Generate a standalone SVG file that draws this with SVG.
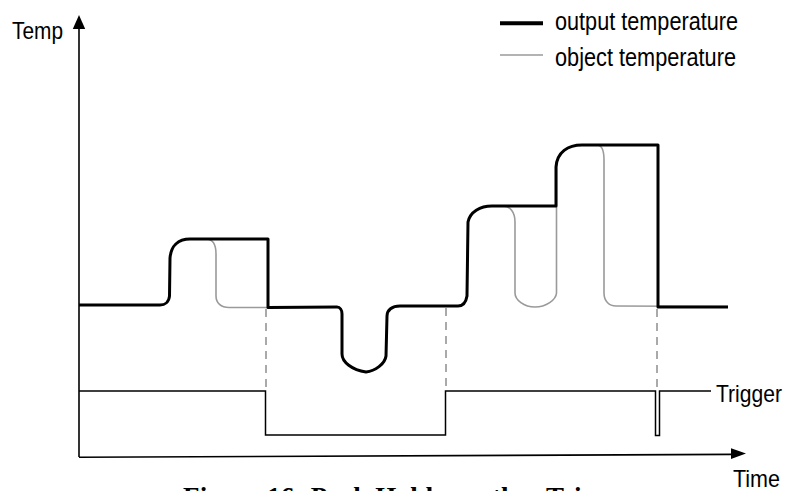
<svg xmlns="http://www.w3.org/2000/svg" width="786" height="491" viewBox="0 0 786 491">
  <style>
    .lbl { font-family: "Liberation Sans Narrow", "Liberation Sans", Arial, sans-serif; fill: #000; }
    .axis { stroke: #000; stroke-width: 1.6; fill: none; }
    .out { stroke: #000; stroke-width: 3; fill: none; stroke-linejoin: round; stroke-linecap: butt; }
    .obj { stroke: #9a9a9a; stroke-width: 1.6; fill: none; stroke-linejoin: round; }
    .trig { stroke: #000; stroke-width: 1.5; fill: none; }
    .dash { stroke: #555; stroke-width: 1; stroke-dasharray: 8 6; fill: none; }
    .cap { font-family: "Liberation Serif", "Times New Roman", serif; font-weight: bold; font-size: 27px; fill: #000; }
  </style>
  <rect width="786" height="491" fill="#fff"/>

  <g id="axes">
    <line class="axis" x1="79" y1="457" x2="79" y2="27"/>
    <polygon points="79,15 72.8,29 85.2,29" fill="#000"/>
    <line class="axis" x1="79" y1="457.2" x2="733" y2="454.4"/>
    <polygon points="746,453.6 731,448.2 731,459" fill="#000"/>
    <text class="lbl" x="12" y="38.5" font-size="24" textLength="51" lengthAdjust="spacingAndGlyphs">Temp</text>
    <text class="lbl" x="733" y="486.5" font-size="24" textLength="47" lengthAdjust="spacingAndGlyphs">Time</text>
  </g>

  <g id="legend">
    <line x1="500" y1="23.3" x2="543" y2="23.3" stroke="#000" stroke-width="4"/>
    <text class="lbl" x="555" y="29.5" font-size="25" textLength="183" lengthAdjust="spacingAndGlyphs">output temperature</text>
    <line x1="500" y1="55" x2="543" y2="55" stroke="#9a9a9a" stroke-width="1.5"/>
    <text class="lbl" x="555" y="65.5" font-size="25" textLength="181" lengthAdjust="spacingAndGlyphs">object temperature</text>
  </g>

  <g id="connectors">
    <line class="dash" x1="266" y1="309" x2="266" y2="391"/>
    <line class="dash" x1="446" y1="308" x2="446" y2="391"/>
    <line class="dash" x1="657" y1="309" x2="657" y2="391"/>
  </g>

  <g id="object-temperature">
    <path class="obj" d="M79,305 L160,305 C165,305 169,302 169.5,296 L170,258 C171,246 178,239 190,239 L206,239 C212,239 216,244 216,254 L216,296 C216,303 221,307.5 229,307.5 L268,307.5 L337,307 C340,307 342,310 342,314 L342,354 C342,362 352,370 366,372 C375,371 385,364 386,356 L387,316 C387,310 392,306 400,306 L458,306 C463,306 466,302 467,296 L468,222 C470,212 480,206 492,206 L503,206 C510,206 515,212 515,222 L515,293 C515,300 524,307 535,307 C546,307 556,300 556.5,293 L556.5,206 L556.5,167 C557,152 568,145 582,145 L597,145 C601,145 604,150 604,160 L604,293 C604,301 609,306 616,306 L728,306.5"/>
  </g>

  <g id="output-temperature">
    <path class="out" d="M79,305 L160,305 C165,305 169,302 169.5,296 L170,258 C171,246 178,239 190,239 L268,239 L268,307.5 L337,307 C340,307 342,310 342,314 L342,354 C342,362 352,370 366,372 C375,371 385,364 386,356 L387,316 C387,310 392,306 400,306 L458,306 C463,306 466,302 467,296 L468,222 C470,212 480,206 492,206 L556,206 L556,167 C557,152 568,145 582,145 L658,145 L658,307 L728,307"/>
  </g>

  <g id="trigger">
    <path class="trig" d="M79,391 L265.5,391 L265.5,435 L445.5,435 L445.5,391 L655.5,391 L655.5,435.5 L659.5,435.5 L659.5,391 L711,391"/>
    <text class="lbl" x="716" y="401.5" font-size="24" textLength="66" lengthAdjust="spacingAndGlyphs">Trigger</text>
  </g>

  <g id="caption">
    <text class="cap" y="506"><tspan x="183" textLength="250" lengthAdjust="spacing">Figure 16: Peak Hold</tspan><tspan x="452">on</tspan><tspan x="492">the</tspan><tspan x="546">Trigger</tspan></text>
  </g>
</svg>
